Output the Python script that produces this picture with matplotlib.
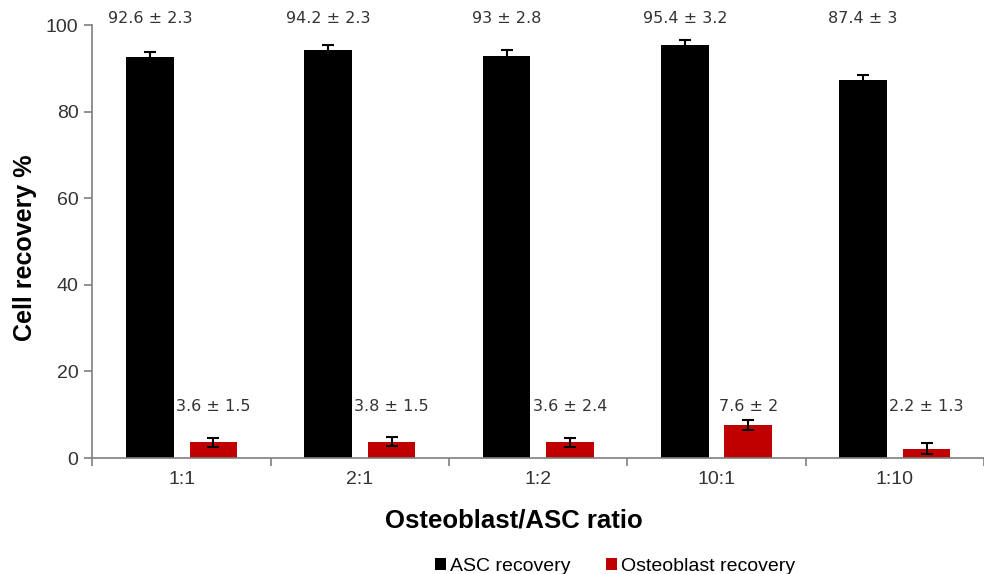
import numpy as np
import matplotlib.pyplot as plt

ratios = ['1:1', '2:1', '1:2', '10:1', '1:10']
asc_mean = [92.6, 94.2, 93.0, 95.4, 87.4]
asc_sd = [2.3, 2.3, 2.8, 3.2, 3.0]
asc_err = [1.2, 1.3, 1.3, 1.1, 1.2]
ost_mean = [3.6, 3.8, 3.6, 7.6, 2.2]
ost_sd = [1.5, 1.5, 2.4, 2.0, 1.3]
ost_err = [1.0, 1.0, 1.0, 1.1, 1.3]

asc_lbl = ['92.6 ± 2.3', '94.2 ± 2.3', '93 ± 2.8', '95.4 ± 3.2', '87.4 ± 3']
ost_lbl = ['3.6 ± 1.5', '3.8 ± 1.5', '3.6 ± 2.4', '7.6 ± 2', '2.2 ± 1.3']

plt.rcParams['font.family'] = ['Liberation Sans', 'DejaVu Sans']

fig = plt.figure(figsize=(9.84, 5.74), dpi=100)
ax = fig.add_axes([0.094, 0.202, 0.906, 0.754])

x = np.arange(len(ratios))
w = 0.267
off = 0.178
ekw = dict(ecolor='black', elinewidth=1.5, capsize=4, capthick=1.5)
ax.bar(x - off, asc_mean, w, color='black', yerr=asc_err, error_kw=ekw, label='ASC recovery')
ax.bar(x + off, ost_mean, w, color='#c00000', yerr=ost_err, error_kw=ekw, label='Osteoblast recovery')

for i in range(len(ratios)):
    ax.text(x[i] - off, 101.6, asc_lbl[i], ha='center', va='center',
            fontsize=11.5, color='#333333', family='DejaVu Sans', clip_on=False)
    ax.text(x[i] + off, 11.8, ost_lbl[i], ha='center', va='center',
            fontsize=11.5, color='#333333', family='DejaVu Sans')

ax.set_xlim(-0.5, 4.41)
ax.set_ylim(0, 100)
ax.set_yticks(range(0, 101, 20))
ax.set_xticks(x)
ax.set_xticklabels(ratios)
ax.set_xticks(np.arange(-0.5, 5, 1), minor=True)
ax.tick_params(axis='x', which='major', length=0, pad=9, labelsize=14, labelcolor='#333333')
ax.tick_params(axis='x', which='minor', length=6, width=1.2, color='#7f7f7f', direction='out')
ax.tick_params(axis='y', length=6, width=1.2, color='#7f7f7f', labelsize=14, labelcolor='#333333', pad=4)

for s in ['top', 'right']:
    ax.spines[s].set_visible(False)
for s in ['left', 'bottom']:
    ax.spines[s].set_color('#7f7f7f')
    ax.spines[s].set_linewidth(1.2)

ax.set_ylabel('Cell recovery %', fontsize=18, fontweight='bold')
ax.yaxis.set_label_coords(-0.062, 0.485)
ax.set_xlabel('Osteoblast/ASC ratio', fontsize=18.5, fontweight='bold')
ax.xaxis.set_label_coords(0.473, -0.117)

fig.legend(loc='center', bbox_to_anchor=(0.625, 0.013), ncol=2, frameon=False,
           fontsize=14, handlelength=0.6, handleheight=0.6, handletextpad=0.2,
           columnspacing=1.8)

fig.savefig('out.png', dpi=100)
